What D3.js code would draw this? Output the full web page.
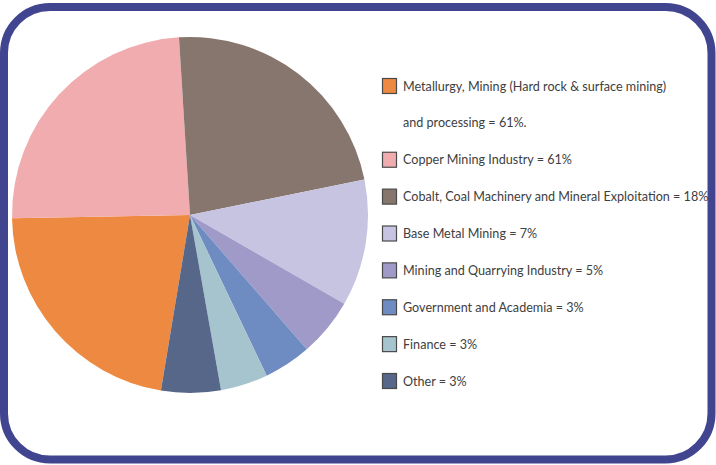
<!DOCTYPE html>
<html>
<head>
<meta charset="utf-8">
<script src="https://cdn.jsdelivr.net/npm/d3@7"></script>
<style>
  body { margin: 0; background: #fff; }
  svg { display: block; }
</style>
</head>
<body>
<div id="chart"></div>
<script>
var width = 716,
    height = 465;

// slice order follows the legend, read clockwise from the lower left
var categories = ["Metallurgy", "Copper", "Cobalt", "BaseMetal", "Quarrying", "Government", "Finance", "Other"];
var shares = [22.1, 24.3, 22.8, 11.5, 5.3, 4.3, 4.3, 5.4];
var colors = ["#ee8941", "#f0acae", "#87766e", "#c7c4e2", "#a09ac8", "#6e8cc2", "#a6c4ce", "#566789"];
var legendLabels = [
    ["Metallurgy, Mining (Hard rock & surface mining)", "and processing = 61%."],
    ["Copper Mining Industry = 61%"],
    ["Cobalt, Coal Machinery and Mineral Exploitation = 18%"],
    ["Base Metal Mining = 7%"],
    ["Mining and Quarrying Industry = 5%"],
    ["Government and Academia = 3%"],
    ["Finance = 3%"],
    ["Other = 3%"]
];

var pieCenter = { x: 190, y: 215 },
    radius = 178,
    startDeg = 189.4;

var svg = d3.select("#chart").append("svg")
    .attr("width", width)
    .attr("height", height);

var pie = d3.pie()
    .sort(null)
    .value(function (d) { return d; })
    .startAngle(startDeg * Math.PI / 180)
    .endAngle(startDeg * Math.PI / 180 + 2 * Math.PI);

var arc = d3.arc()
    .innerRadius(0)
    .outerRadius(radius);

var color = d3.scaleOrdinal()
    .domain(categories)
    .range(colors);

svg.append("g")
    .attr("transform", `translate(${pieCenter.x}, ${pieCenter.y})`)
    .selectAll("path")
    .data(pie(shares))
    .enter().append("path")
    .attr("d", arc)
    .attr("fill", function (d, i) { return color(categories[i]); });

// legend rows, the first entry wraps onto a second line
var rowY = d3.scaleLinear()
    .domain([0, 8])
    .range([86, 381]);

var rows = [];
legendLabels.forEach(function (lines, i) {
    lines.forEach(function (t, j) {
        rows.push({ cat: i, line: j, text: t });
    });
});

var legend = svg.append("g")
    .attr("font-family", "Lato, 'Open Sans', sans-serif")
    .attr("font-size", "12.6px")
    .attr("fill", "#404040");

var item = legend.selectAll("g")
    .data(rows)
    .enter().append("g")
    .attr("transform", function (d, i) { return `translate(382, ${rowY(i)})`; });

item.filter(function (d) { return d.line == 0; })
    .append("rect")
    .attr("x", 0.5)
    .attr("y", -7.5)
    .attr("width", 14)
    .attr("height", 15)
    .attr("fill", function (d) { return color(categories[d.cat]); })
    .attr("stroke", "#4a4a4a")
    .attr("stroke-width", 1.2);

item.append("text")
    .attr("x", 21)
    .attr("y", 4.5)
    .text(function (d) { return d.text; });

// rounded frame drawn last so it sits over the long label
svg.append("rect")
    .attr("x", 4)
    .attr("y", 7)
    .attr("width", 707.5)
    .attr("height", 452.5)
    .attr("rx", 46)
    .attr("ry", 46)
    .attr("fill", "none")
    .attr("stroke", "#41448f")
    .attr("stroke-width", 8);
</script>
</body>
</html>
